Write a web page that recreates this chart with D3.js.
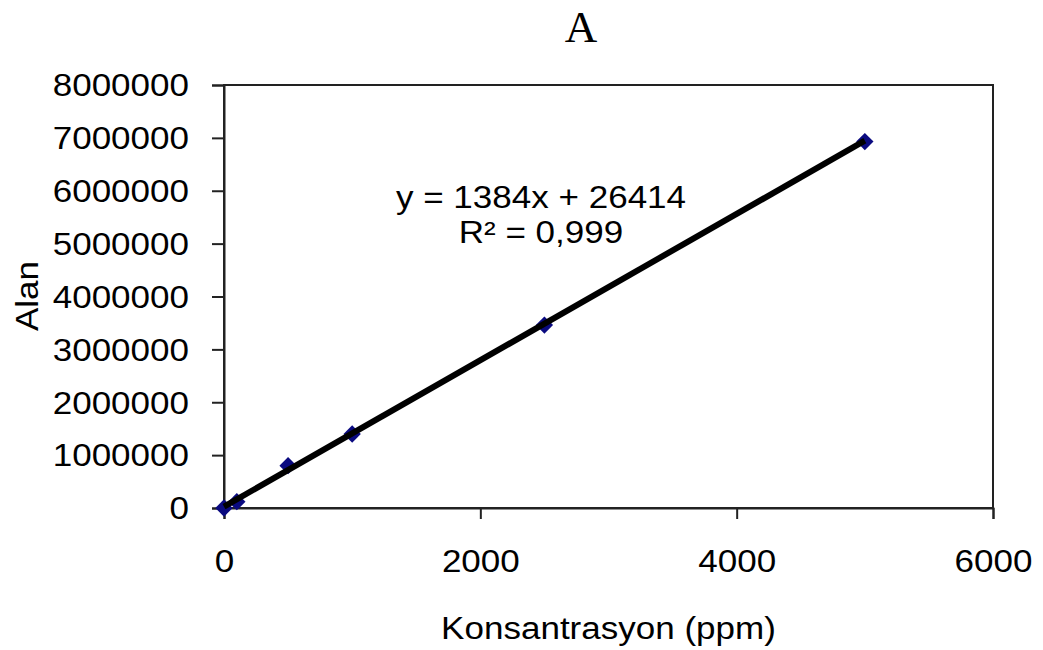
<!DOCTYPE html>
<html>
<head>
<meta charset="utf-8">
<script src="https://cdn.jsdelivr.net/npm/d3@7"></script>
<style>
  html, body { margin: 0; padding: 0; background: #fff; }
  svg text { font-family: "Liberation Sans", Arial, sans-serif; fill: #000; }
</style>
</head>
<body>
<svg id="chart" width="1043" height="650"></svg>
<script>
// Calibration data: concentration (ppm) vs. peak area
const concentrations = [0, 100, 500, 1000, 2500, 5000];
const areas = [0, 120000, 800000, 1400000, 3460000, 6930000];

// Linear fit reported on the chart
const slope = 1384;
const intercept = 26414;
const fitRange = [0, 5000];
const equationLines = ["y = 1384x + 26414", "R\u00b2 = 0,999"];

const xTicks = [0, 2000, 4000, 6000];
const yTicks = [0, 1000000, 2000000, 3000000, 4000000, 5000000, 6000000, 7000000, 8000000];

const titleText = "A";
const xLabel = "Konsantrasyon (ppm)";
const yLabel = "Alan";

const svg = d3.select("#chart");
const W = 1043, H = 650;
const margin = { left: 224, right: W - 993, top: 85, bottom: H - 508 };

const x = d3.scaleLinear().domain([0, 6000]).range([margin.left, W - margin.right]);
const y = d3.scaleLinear().domain([0, 8000000]).range([H - margin.bottom, margin.top]);

const sx = 1.13; // slightly wide lettering
const fs = 31;
const axisColor = "#222";

// plot frame
svg.append("rect")
  .attr("x", x(0)).attr("y", y(8000000))
  .attr("width", x(6000) - x(0)).attr("height", y(0) - y(8000000))
  .attr("fill", "none").attr("stroke", axisColor).attr("stroke-width", 2);

// y axis
const yAxis = svg.append("g").attr("transform", `translate(${x(0)},0)`)
  .call(d3.axisLeft(y).tickValues(yTicks).tickSize(12).tickPadding(35).tickFormat(d3.format("d")));
yAxis.select(".domain").attr("stroke", axisColor).attr("stroke-width", 2);
yAxis.selectAll(".tick line").attr("stroke", axisColor).attr("stroke-width", 2);
yAxis.selectAll(".tick text")
  .attr("font-size", fs).attr("font-family", "Liberation Sans, Arial, sans-serif")
  .attr("x", null).attr("dy", null)
  .attr("dominant-baseline", "central")
  .attr("transform", `translate(-35,0) scale(${sx},1)`);

// x axis
const xAxis = svg.append("g").attr("transform", `translate(0,${y(0)})`)
  .call(d3.axisBottom(x).tickValues(xTicks).tickSize(11).tickPadding(18).tickFormat(d3.format("d")));
xAxis.select(".domain").attr("stroke", axisColor).attr("stroke-width", 2);
xAxis.selectAll(".tick line").attr("stroke", axisColor).attr("stroke-width", 2);
xAxis.selectAll(".tick text")
  .attr("font-size", fs).attr("font-family", "Liberation Sans, Arial, sans-serif")
  .attr("y", null).attr("dy", null)
  .attr("dominant-baseline", "central")
  .attr("transform", `translate(0,53) scale(${sx},1)`);

// data markers (diamonds)
svg.append("g").selectAll("path")
  .data(concentrations.map((c, i) => [c, areas[i]]))
  .join("path")
  .attr("d", d3.symbol().type(d3.symbolSquare).size(150))
  .attr("transform", d => `translate(${x(d[0])},${y(d[1])}) rotate(45)`)
  .attr("fill", "#0a0a80");

// trend line
const line = d3.line().x(d => x(d)).y(d => y(slope * d + intercept));
svg.append("path")
  .datum(fitRange)
  .attr("d", line)
  .attr("fill", "none").attr("stroke", "#000").attr("stroke-width", 6);

// equation
const eq = svg.append("g");
equationLines.forEach((t, i) => {
  eq.append("text")
    .attr("transform", `translate(541,${208 + i * 35}) scale(${sx},1)`)
    .attr("text-anchor", "middle")
    .attr("font-size", fs)
    .text(t);
});

// axis titles
svg.append("text")
  .attr("transform", `translate(${(x(0) + x(6000)) / 2},639) scale(${sx},1)`)
  .attr("text-anchor", "middle").attr("font-size", fs)
  .text(xLabel);
svg.append("text")
  .attr("transform", `translate(38,296) rotate(-90) scale(${sx},1)`)
  .attr("text-anchor", "middle").attr("font-size", fs)
  .text(yLabel);

// chart title
svg.append("text")
  .attr("x", 581).attr("y", 42)
  .attr("text-anchor", "middle")
  .attr("font-size", 45)
  .style("font-family", "'Liberation Serif', 'Times New Roman', serif")
  .text(titleText);
</script>
</body>
</html>
